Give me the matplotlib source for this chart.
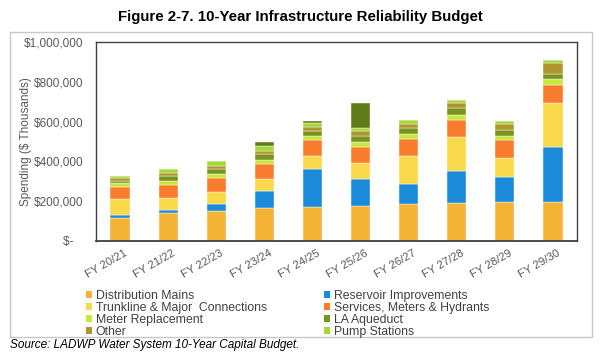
import numpy as np
import matplotlib
matplotlib.use("Agg")
import matplotlib.pyplot as plt
from matplotlib.patches import Rectangle, Patch
from matplotlib.transforms import ScaledTranslation

plt.rcParams['font.family'] = ['Liberation Sans', 'DejaVu Sans']

# Datos (miles de dólares)
años = ['FY 20/21', 'FY 21/22', 'FY 22/23', 'FY 23/24', 'FY 24/25',
        'FY 25/26', 'FY 26/27', 'FY 27/28', 'FY 28/29', 'FY 29/30']
distribucion = [117, 139, 152, 164, 172, 176, 186, 189, 196, 198]
reservorios = [13, 17, 34, 87, 190, 134, 101, 162, 126, 276]
troncales = [81, 59, 59, 59, 65, 80, 142, 172, 95, 218]
servicios = [62, 67, 70, 77, 80, 84, 84, 87, 90, 94]
medidores = [20, 22, 22, 20, 23, 25, 23, 23, 23, 27]
acueducto = [10, 25, 25, 28, 22, 28, 30, 35, 28, 25]
otros = [12, 15, 17, 18, 22, 25, 22, 25, 28, 55]
bombeo = [13, 17, 23, 23, 17, 15, 20, 18, 15, 17]
adicional = [0, 0, 0, 22, 13, 127, 0, 0, 0, 0]

series = [
    ('Distribution Mains', distribucion, '#F5B335'),
    ('Reservoir Improvements', reservorios, '#1A8BDB'),
    ('Trunkline & Major  Connections', troncales, '#F9D94A'),
    ('Services, Meters & Hydrants', servicios, '#F97B2C'),
    ('Meter Replacement', medidores, '#C9E73A'),
    ('LA Aqueduct', acueducto, '#7A921E'),
    ('Other', otros, '#B0952A'),
    ('Pump Stations', bombeo, '#A3D839'),
    ('_extra', adicional, '#5E7D17'),
]

fig = plt.figure(figsize=(6, 3.54), dpi=100)
ax = fig.add_axes([96/600, 1 - 241/354, 481/600, 199/354])

x = np.arange(len(años))
base = np.zeros(len(años))
for nombre, valores, color in series:
    v = np.array(valores, dtype=float) * 1000
    ax.bar(x, v, 0.4, bottom=base, color=color, edgecolor='#FFFFFF', linewidth=0.3)
    base += v

ax.set_xlim(-0.5, len(años) - 0.5)
ax.set_ylim(0, 1000000)
ax.set_yticks(np.arange(0, 1000001, 200000))
etiquetas = ['$-   '] + ['${:,.0f}'.format(t) for t in np.arange(200000, 1000001, 200000)]
ax.set_yticklabels(etiquetas)
ax.tick_params(axis='y', length=0, pad=9, labelsize=8.5, labelcolor='#595959')
ax.set_xticks(x)
ax.set_xticklabels(años, rotation=30, ha='right', rotation_mode='anchor')
ax.tick_params(axis='x', length=0, pad=5, labelsize=8.2, labelcolor='#595959')
# desplazar un poco las etiquetas del eje x a la derecha
desplazamiento = ScaledTranslation(4/100, 0, fig.dpi_scale_trans)
for etiqueta in ax.get_xticklabels():
    etiqueta.set_transform(etiqueta.get_transform() + desplazamiento)
for s in ax.spines.values():
    s.set_color('#404040')
    s.set_linewidth(1.0)
ax.spines['bottom'].set_linewidth(1.3)
ax.set_ylabel('Spending ($ Thousands)', fontsize=8.5, color='#595959')
ax.yaxis.set_label_coords(-0.133, 0.5)

fig.text(0.5, 1 - 17/354, 'Figure 2-7. 10-Year Infrastructure Reliability Budget',
         ha='center', va='center', fontsize=10.8, fontweight='bold',
         family=['Liberation Sans Narrow', 'Liberation Sans'])

# Leyenda en dos columnas
def leyenda(items, x0):
    handles = [Patch(facecolor=c, edgecolor='none', label=n) for n, c in items]
    fig.legend(handles=handles, loc='upper left', bbox_to_anchor=(x0, 1 - 290/354),
               frameon=False, fontsize=8.8, handlelength=0.5, handleheight=0.5,
               handletextpad=0.3, labelspacing=0.0, borderaxespad=0, borderpad=0,
               labelcolor='#404040')

leyenda([(series[i][0], series[i][2]) for i in (0, 2, 4, 6)], 86/600)
leyenda([(series[i][0], series[i][2]) for i in (1, 3, 5, 7)], 324/600)

fig.patches.append(Rectangle((10/600, 1 - 337/354), 582/600, 305/354,
                             transform=fig.transFigure, fill=False,
                             edgecolor='#C8C8C8', linewidth=1.0))

fig.text(10/600, 1 - 345/354, 'Source: LADWP Water System 10-Year Capital Budget.',
         ha='left', va='center', fontsize=8.5, style='italic', color='black')

fig.savefig('out.png', dpi=100)
